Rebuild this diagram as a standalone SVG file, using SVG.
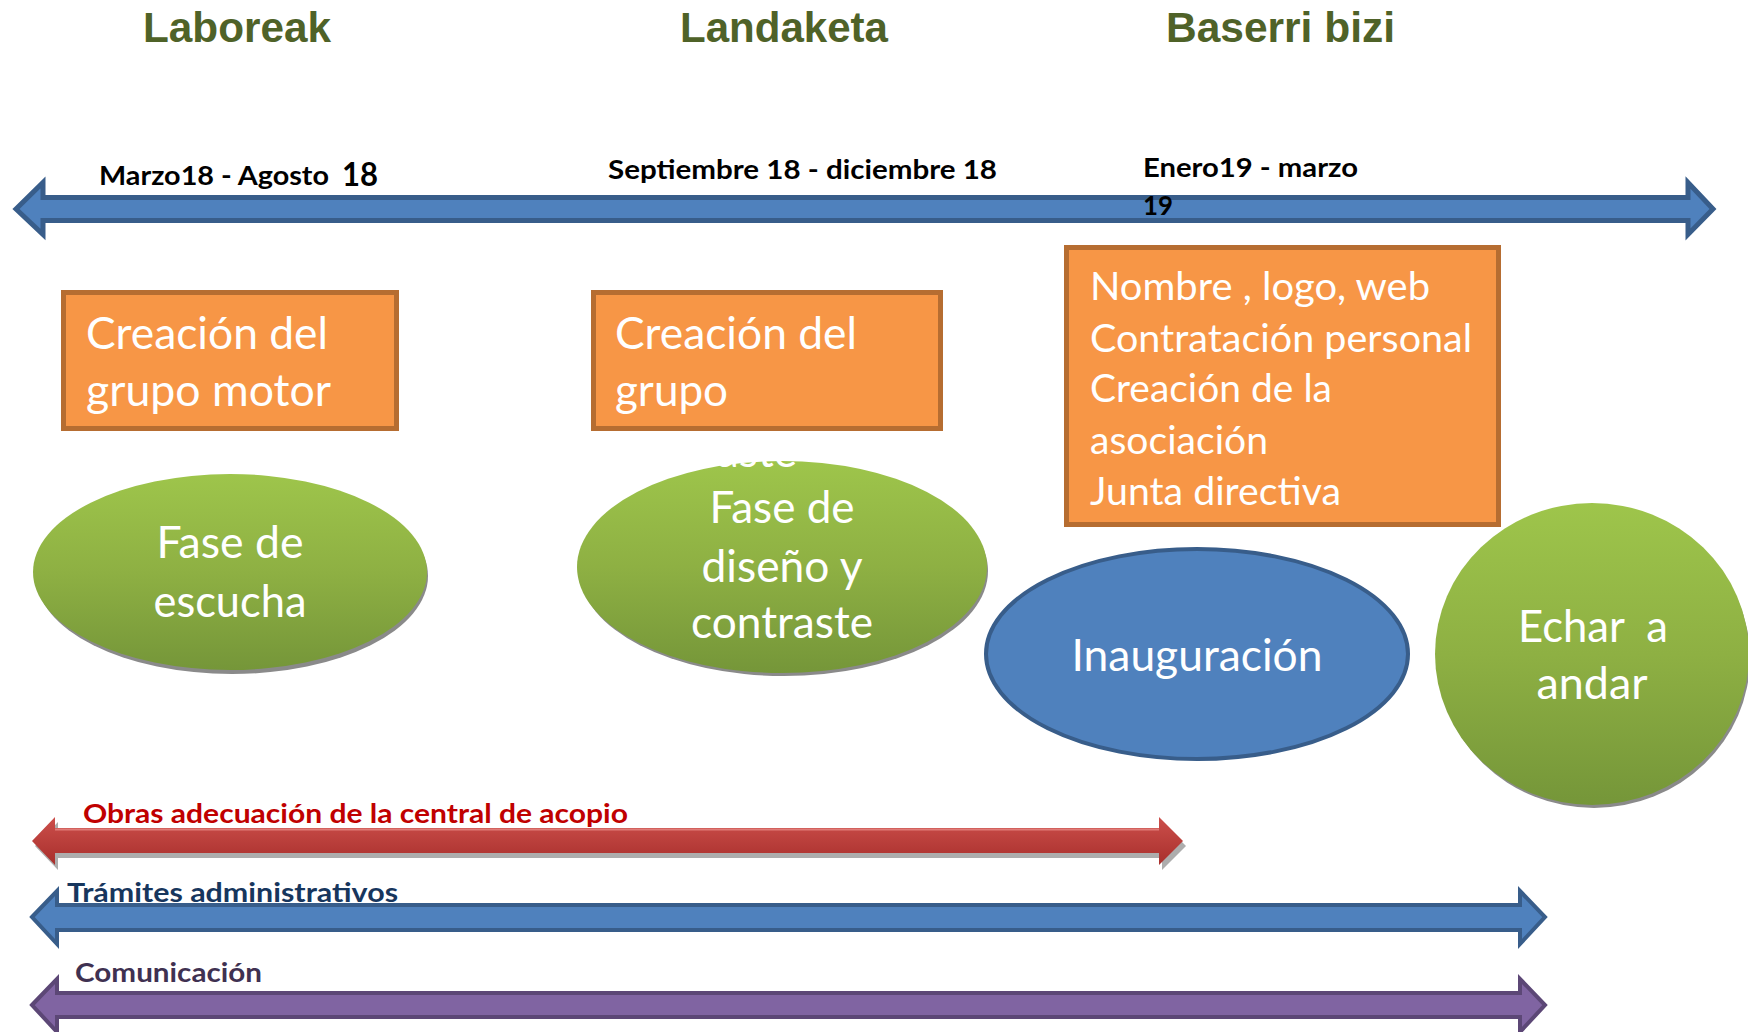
<svg xmlns="http://www.w3.org/2000/svg" width="1748" height="1032" viewBox="0 0 1748 1032">
<defs>
<linearGradient id="gGreen" x1="0" y1="0" x2="0" y2="1">
<stop offset="0" stop-color="#9EC54B"/>
<stop offset="0.5" stop-color="#8EB043"/>
<stop offset="1" stop-color="#759639"/>
</linearGradient>
<linearGradient id="gRed" x1="0" y1="0" x2="0" y2="1">
<stop offset="0" stop-color="#CC4F4B"/>
<stop offset="1" stop-color="#A82F2C"/>
</linearGradient>
<style>
.title{font-family:"Liberation Sans",Arial,sans-serif;font-weight:bold;font-size:42px;fill:#4F6228}
.date{font-family:Lato,"Open Sans",sans-serif;font-weight:bold;font-size:26px;fill:#000}
.big{font-size:33px}
.box{fill:#F79646;stroke:#B66D31;stroke-width:5}
.bt{font-family:Lato,"Open Sans",sans-serif;font-size:44px;fill:#fff}
.bt3{font-family:Lato,"Open Sans",sans-serif;font-size:39px;fill:#fff}
.et{font-family:Lato,"Open Sans",sans-serif;font-size:44px;fill:#fff;text-anchor:middle;white-space:pre}
.green{fill:url(#gGreen)}
.shadow{fill:#8a8a8a}
.lbl{font-family:Lato,"Open Sans",sans-serif;font-weight:bold;font-size:26px}
</style>
</defs>
<rect width="1748" height="1032" fill="#fff"/>

<g id="titles">
<text class="title" x="143" y="42" textLength="188" lengthAdjust="spacingAndGlyphs">Laboreak</text>
<text class="title" x="680" y="42" textLength="208" lengthAdjust="spacingAndGlyphs">Landaketa</text>
<text class="title" x="1166" y="42" textLength="229" lengthAdjust="spacingAndGlyphs">Baserri bizi</text>
</g>

<g id="connectors">
<polygon id="timeline" points="16,209 43,182.5 43,197.5 1688,197.5 1688,182.5 1713,209 1688,234.5 1688,220.5 43,220.5 43,234.5" fill="#4F81BD" stroke="#385D8A" stroke-width="5" stroke-linejoin="miter"/>
<g id="obras">
<polygon points="35,846 58,822 58,833 1162,833 1162,822 1186,846 1162,870 1162,858 58,858 58,870" class="shadow" opacity="0.7"/>
<polygon points="32,841 55,817 55,828 1159,828 1159,817 1183,841 1159,865 1159,853 55,853 55,865" fill="url(#gRed)"/>
<line x1="55" y1="829.5" x2="1159" y2="829.5" stroke="#E07A77" stroke-width="2"/>
</g>
<polygon id="tramites" points="32,917 57,891 57,905 1520,905 1520,891 1545,917 1520,944 1520,930 57,930 57,944" fill="#4F81BD" stroke="#385D8A" stroke-width="4"/>
<polygon id="comunicacion" points="32,1005 57,979 57,993 1520,993 1520,979 1545,1005 1520,1032 1520,1017 57,1017 57,1032" fill="#8064A2" stroke="#5C4776" stroke-width="4"/>
</g>

<g id="dates">
<text class="date" x="99" y="185" textLength="230" lengthAdjust="spacingAndGlyphs">Marzo18 - Agosto</text>
<text class="date big" x="342" y="186" textLength="36" lengthAdjust="spacingAndGlyphs">18</text>
<text class="date" x="608" y="179" textLength="389" lengthAdjust="spacingAndGlyphs">Septiembre 18 - diciembre 18</text>
<text class="date" x="1143" y="177" textLength="215" lengthAdjust="spacingAndGlyphs">Enero19 - marzo</text>
<text class="date" x="1143" y="215" textLength="30" lengthAdjust="spacingAndGlyphs">19</text>
</g>

<g id="box-grupo-motor">
<rect class="box" x="63.5" y="292.5" width="333" height="136"/>
<text class="bt" x="86" y="349" textLength="242" lengthAdjust="spacingAndGlyphs">Creación del</text>
<text class="bt" x="86" y="406" textLength="245" lengthAdjust="spacingAndGlyphs">grupo motor</text>
</g>

<g id="box-grupo">
<rect class="box" x="593.5" y="292.5" width="347" height="136"/>
<text class="bt" x="615" y="349" textLength="242" lengthAdjust="spacingAndGlyphs">Creación del</text>
<text class="bt" x="615" y="406" textLength="113" lengthAdjust="spacingAndGlyphs">grupo</text>
</g>

<g id="box-asociacion">
<rect class="box" x="1066.5" y="247.5" width="432" height="277"/>
<text class="bt3" x="1090" y="300" textLength="340" lengthAdjust="spacingAndGlyphs">Nombre , logo, web</text>
<text class="bt3" x="1090" y="352" textLength="382" lengthAdjust="spacingAndGlyphs">Contratación personal</text>
<text class="bt3" x="1090" y="402" textLength="242" lengthAdjust="spacingAndGlyphs">Creación de la</text>
<text class="bt3" x="1090" y="454" textLength="178" lengthAdjust="spacingAndGlyphs">asociación</text>
<text class="bt3" x="1090" y="505" textLength="251" lengthAdjust="spacingAndGlyphs">Junta directiva</text>
</g>

<g id="fase-escucha">
<ellipse class="shadow" cx="232" cy="576" rx="196" ry="98"/>
<ellipse class="green" cx="230" cy="572" rx="197" ry="98"/>
<text class="et" x="230" y="558" textLength="147" lengthAdjust="spacingAndGlyphs">Fase de</text>
<text class="et" x="230" y="617" textLength="153" lengthAdjust="spacingAndGlyphs">escucha</text>
</g>

<g id="fase-diseno">
<ellipse class="shadow" cx="784" cy="571" rx="204" ry="105"/>
<ellipse class="green" cx="782" cy="567" rx="205" ry="106"/>
<text class="et" x="797" y="467" style="text-anchor:end" textLength="182" lengthAdjust="spacingAndGlyphs">contraste</text>
<text class="et" x="782" y="523" textLength="145" lengthAdjust="spacingAndGlyphs">Fase de</text>
<text class="et" x="782" y="582" textLength="161" lengthAdjust="spacingAndGlyphs">diseño y</text>
<text class="et" x="782" y="638" textLength="182" lengthAdjust="spacingAndGlyphs">contraste</text>
</g>

<g id="inauguracion">
<ellipse cx="1197" cy="654" rx="211" ry="105" fill="#4F81BD" stroke="#385D8A" stroke-width="4"/>
<text class="et" x="1197" y="671" textLength="251" lengthAdjust="spacingAndGlyphs">Inauguración</text>
</g>

<g id="echar-a-andar">
<ellipse class="shadow" cx="1594" cy="658" rx="156" ry="150"/>
<ellipse class="green" cx="1592" cy="654" rx="157" ry="151"/>
<text class="et" x="1593" y="642" textLength="150" lengthAdjust="spacingAndGlyphs">Echar  a</text>
<text class="et" x="1592" y="699" textLength="111" lengthAdjust="spacingAndGlyphs">andar</text>
</g>

<g id="labels">
<text class="lbl" x="83" y="823" fill="#C00000" textLength="545" lengthAdjust="spacingAndGlyphs">Obras adecuación de la central de acopio</text>
<text class="lbl" x="67" y="902" fill="#17365D" textLength="331" lengthAdjust="spacingAndGlyphs">Trámites administrativos</text>
<text class="lbl" x="75" y="982" fill="#3F3151" textLength="187" lengthAdjust="spacingAndGlyphs">Comunicación</text>
</g>
</svg>
